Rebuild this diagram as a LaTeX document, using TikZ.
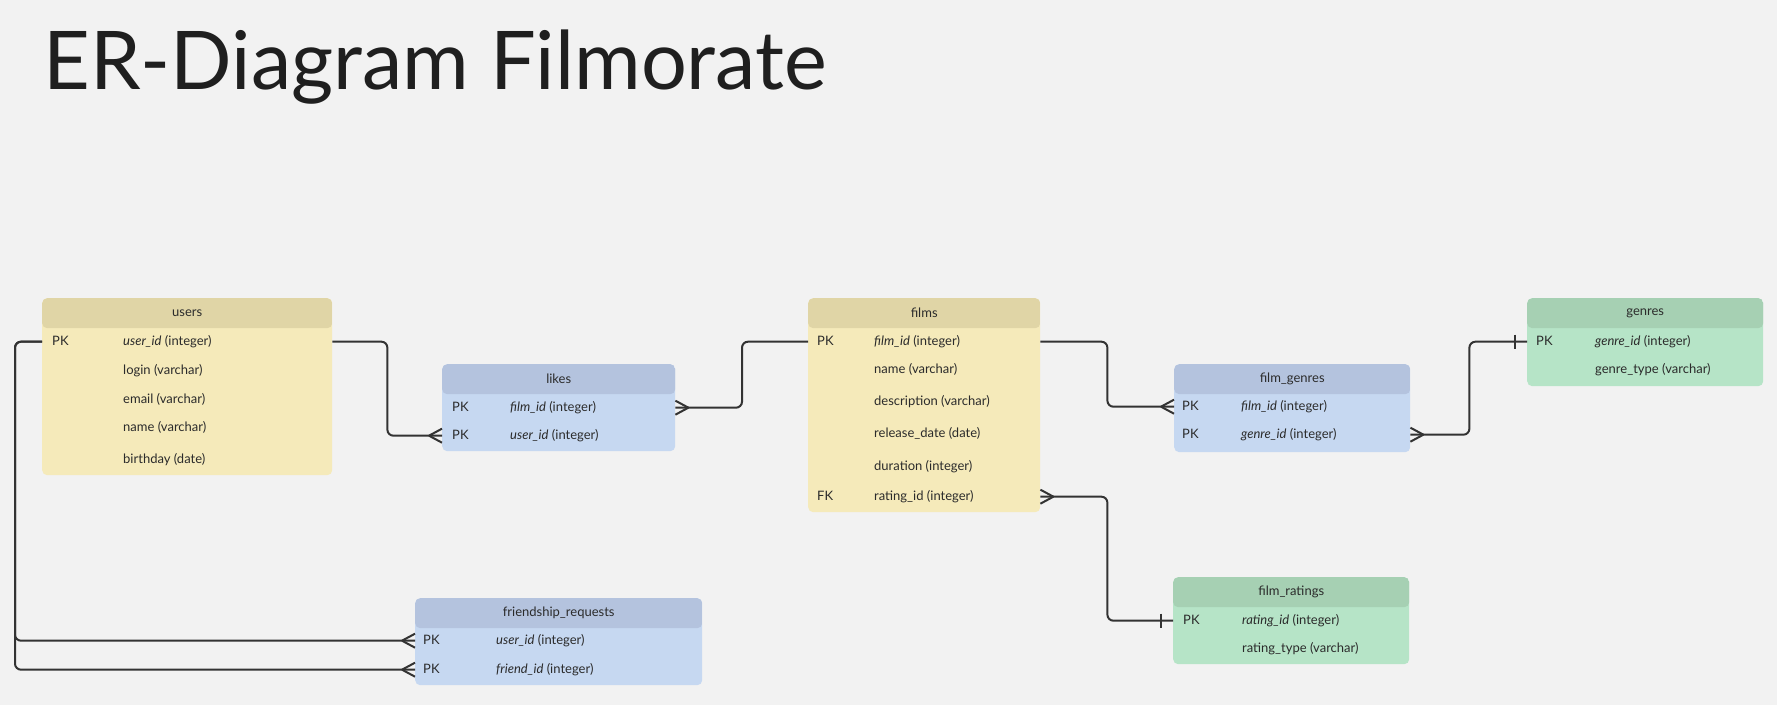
\documentclass[tikz,border=0pt]{standalone}
\usepackage{fontspec}
\setmainfont{Lato}
\usepackage{tikz}
\usetikzlibrary{positioning}
\usepackage{xcolor}

\definecolor{bgcol}{HTML}{F2F2F2}
\definecolor{yelhead}{HTML}{E0D5A6}
\definecolor{yelbody}{HTML}{F5EABA}
\definecolor{bluhead}{HTML}{B4C3DE}
\definecolor{blubody}{HTML}{C6D8F1}
\definecolor{grnhead}{HTML}{A6D0B3}
\definecolor{grnbody}{HTML}{B6E4C7}
\definecolor{linecol}{HTML}{333333}
\definecolor{txtcol}{HTML}{2B2B2B}

\tikzset{
  tbl/.style 2 args={fill=#2,rounded corners=5pt,inner sep=0pt,anchor=north west,
    path picture={\fill[#1] (path picture bounding box.north west) rectangle ([yshift=-30pt]path picture bounding box.north east);}},
  tblhead/.style={font=\fontsize{13}{15}\selectfont,text=txtcol,inner sep=0pt},
  cell/.style={font=\fontsize{13}{15}\selectfont,text=txtcol,anchor=mid west,inner sep=0pt},
  link/.style={draw=linecol,line width=2pt,rounded corners=6pt},
  crow/.pic={\draw[linecol,line width=2pt] (-13,0) -- (0,-7) (-13,0) -- (0,7);},
  onlyone/.pic={\draw[linecol,line width=2pt] (-12,-7) -- (-12,7);}
}

\begin{document}
\begin{tikzpicture}[x=1pt,y=-1pt]
\fill[bgcol] (0,0) rectangle (1777,705);
\useasboundingbox (0,0) rectangle (1777,705);

\node[anchor=base west,inner sep=0pt,font=\fontsize{81}{85}\selectfont,text=black!88] (title) at (43,89) {ER-Diagram Filmorate};

% users
\node[tbl={yelhead}{yelbody},minimum width=290,minimum height=177] (users) at (42,298) {};
\node[tblhead] (users-h) at ([yshift=-15pt]users.north) {users};
\node[cell] (users-pk) at (52,343) {PK};
\node[cell] (users-id) at (123,343) {\textit{user\_id} (integer)};
\node[cell] (users-login) at (123,372) {login (varchar)};
\node[cell] (users-email) at (123,401) {email (varchar)};
\node[cell] (users-name) at (123,429) {name (varchar)};
\node[cell] (users-bday) at (123,461) {birthday (date)};

% likes
\node[tbl={bluhead}{blubody},minimum width=233,minimum height=87] (likes) at (442,364) {};
\node[tblhead] (likes-h) at ([yshift=-15pt]likes.north) {likes};
\node[cell] at (452,409) {PK};
\node[cell] (likes-fid) at (510,409) {\textit{film\_id} (integer)};
\node[cell] at (452,437) {PK};
\node[cell] (likes-uid) at (510,437) {\textit{user\_id} (integer)};

% films
\node[tbl={yelhead}{yelbody},minimum width=232,minimum height=214] (films) at (808,298) {};
\node[tblhead] (films-h) at ([yshift=-15pt]films.north) {films};
\node[cell] at (817,343) {PK};
\node[cell] (films-id) at (874,343) {\textit{film\_id} (integer)};
\node[cell] (films-name) at (874,371) {name (varchar)};
\node[cell] (films-desc) at (874,403) {description (varchar)};
\node[cell] (films-rel) at (874,435) {release\_date (date)};
\node[cell] (films-dur) at (874,468) {duration (integer)};
\node[cell] at (817,498) {FK};
\node[cell] (films-rid) at (874,498) {rating\_id (integer)};

% film_genres
\node[tbl={bluhead}{blubody},minimum width=236,minimum height=88] (fgenres) at (1174,364) {};
\node[tblhead] (fgenres-h) at ([yshift=-15pt]fgenres.north) {film\_genres};
\node[cell] at (1182,408) {PK};
\node[cell] (fgenres-fid) at (1241,408) {\textit{film\_id} (integer)};
\node[cell] at (1182,436) {PK};
\node[cell] (fgenres-gid) at (1241,436) {\textit{genre\_id} (integer)};

% genres
\node[tbl={grnhead}{grnbody},minimum width=236,minimum height=88] (genres) at (1527,298) {};
\node[tblhead] (genres-h) at ([yshift=-15pt]genres.north) {genres};
\node[cell] at (1536,343) {PK};
\node[cell] (genres-id) at (1595,343) {\textit{genre\_id} (integer)};
\node[cell] (genres-type) at (1595,371) {genre\_type (varchar)};

% friendship_requests
\node[tbl={bluhead}{blubody},minimum width=287,minimum height=87] (fr) at (415,598) {};
\node[tblhead] (fr-h) at ([yshift=-15pt]fr.north) {friendship\_requests};
\node[cell] at (423,642) {PK};
\node[cell] (fr-uid) at (496,642) {\textit{user\_id} (integer)};
\node[cell] at (423,671) {PK};
\node[cell] (fr-fid) at (496,671) {\textit{friend\_id} (integer)};

% film_ratings
\node[tbl={grnhead}{grnbody},minimum width=236,minimum height=87] (ratings) at (1173,577) {};
\node[tblhead] (ratings-h) at ([yshift=-15pt]ratings.north) {film\_ratings};
\node[cell] at (1183,622) {PK};
\node[cell] (ratings-id) at (1242,622) {\textit{rating\_id} (integer)};
\node[cell] (ratings-type) at (1242,650) {rating\_type (varchar)};

% links
\draw[link] (users.east |- users-id) -- ++(55,0) |- (likes.west |- likes-uid);
\pic at (likes.west |- likes-uid) {crow};

\draw[link] (films.west |- films-id) -- ++(-66,0) |- (likes.east |- likes-fid);
\pic[rotate=180] at (likes.east |- likes-fid) {crow};

\draw[link] (films.east |- films-id) -- ++(67,0) |- (fgenres.west |- fgenres-fid);
\pic at (fgenres.west |- fgenres-fid) {crow};

\draw[link] (fgenres.east |- fgenres-gid) -- ++(59,0) |- (genres.west |- genres-id);
\pic[rotate=180] at (fgenres.east |- fgenres-gid) {crow};
\pic at (genres.west |- genres-id) {onlyone};

\draw[link] (films.east |- films-rid) -- ++(67,0) |- (ratings.west |- ratings-id);
\pic[rotate=180] at (films.east |- films-rid) {crow};
\pic at (ratings.west |- ratings-id) {onlyone};

\draw[link] (users.west |- users-id) -- ++(-27,0) |- (fr.west |- fr-uid);
\draw[link] (users.west |- users-id) -- ++(-27,0) |- (fr.west |- fr-fid);
\pic at (fr.west |- fr-uid) {crow};
\pic at (fr.west |- fr-fid) {crow};
\end{tikzpicture}
\end{document}
